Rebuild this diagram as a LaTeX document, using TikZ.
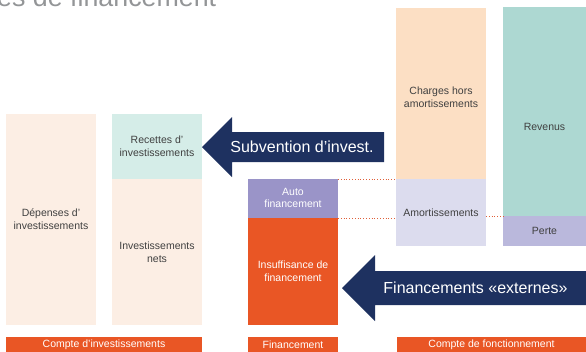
\documentclass[tikz,border=0pt]{standalone}
\usepackage{fontspec}
\setmainfont{Liberation Sans}
\definecolor{paleA}{HTML}{FCEEE4}
\definecolor{tealA}{HTML}{D5EDE8}
\definecolor{purpA}{HTML}{9A94C8}
\definecolor{orgA}{HTML}{E95625}
\definecolor{peachA}{HTML}{FCDFC4}
\definecolor{lavA}{HTML}{DCDCEE}
\definecolor{tealB}{HTML}{ADD8D2}
\definecolor{purpB}{HTML}{BAB8DC}
\definecolor{navyA}{HTML}{1E3160}
\definecolor{txtA}{HTML}{404040}
\definecolor{grayT}{HTML}{939597}
\definecolor{dotA}{HTML}{E0603A}
\begin{document}
\begin{tikzpicture}[x=1pt,y=-1pt,
  boxlbl/.style={font=\fontsize{10.5}{12.8}\selectfont, text=txtA, align=center},
  boxwlbl/.style={font=\fontsize{10.5}{12.8}\selectfont, text=white, align=center},
  arrlbl/.style={font=\fontsize{16}{18}\selectfont, text=white},
  barlbl/.style={font=\fontsize{10.5}{12}\selectfont, text=white, inner sep=0pt},
  dotline/.style={draw=dotA, line width=0.8pt, dotted}]
\useasboundingbox (0,0) rectangle (586,351);
% title
\node[anchor=base west, inner sep=0pt, font=\fontsize{26.8}{30}\selectfont, text=grayT] (title) at (-3,6.5) {es de financement};
% investment account
\fill[paleA] (6,114) rectangle (96,325);
\node[boxlbl] (dep) at (51,219.5) {Dépenses d'\\investissements};
\fill[tealA] (112,114) rectangle (202,179);
\node[boxlbl] (rec) at (157,146.5) {Recettes d'\\investissements};
\fill[paleA] (112,179) rectangle (202,325);
\node[boxlbl] (net) at (157,252) {Investissements\\nets};
% financing
\fill[purpA] (248,179) rectangle (338,218);
\node[boxwlbl] (auto) at (293,198) {Auto\\financement};
\fill[orgA] (248,218) rectangle (338,325);
\node[boxwlbl] (insuf) at (293,271.5) {Insuffisance de\\financement};
% operating account
\fill[peachA] (396,8) rectangle (486,179);
\node[boxlbl] (charges) at (441,97.5) {Charges hors\\amortissements};
\fill[lavA] (396,179) rectangle (486,246);
\node[boxlbl] (amort) at (441,213) {Amortissements};
\fill[tealB] (503,7) rectangle (586,216);
\node[boxlbl] (rev) at (544.5,127) {Revenus};
\fill[purpB] (503,216) rectangle (586,246);
\node[boxlbl] (perte) at (544.5,231) {Perte};
% dotted links
\coordinate (d1a) at (338,179); \coordinate (d1b) at (396,179);
\coordinate (d2a) at (338,218); \coordinate (d2b) at (396,218);
\coordinate (d3a) at (486,216.5); \coordinate (d3b) at (503,216.5);
\draw[dotline] (d1a) -- (d1b);
\draw[dotline] (d2a) -- (d2b);
\draw[dotline] (d3a) -- (d3b);
% arrows
\fill[navyA] (202,147) -- (232,117) -- (232,132) -- (384,132) -- (384,162) -- (232,162) -- (232,177) -- cycle;
\node[arrlbl] (subv) at (302,146.5) {Subvention d’invest.};
\fill[navyA] (342,288) -- (375,255) -- (375,271) -- (586,271) -- (586,305) -- (375,305) -- (375,321) -- cycle;
\node[arrlbl] (fext) at (475.5,288) {Financements «externes»};
% bottom bars
\fill[orgA] (6,337) rectangle (202,352);
\node[barlbl] (b1) at (104,345) {Compte d'investissements};
\fill[orgA] (248,337) rectangle (338,352);
\node[barlbl] (b2) at (293,345) {Financement};
\fill[orgA] (397,337) rectangle (586,352);
\node[barlbl] (b3) at (491.5,345) {Compte de fonctionnement};
\end{tikzpicture}
\end{document}
